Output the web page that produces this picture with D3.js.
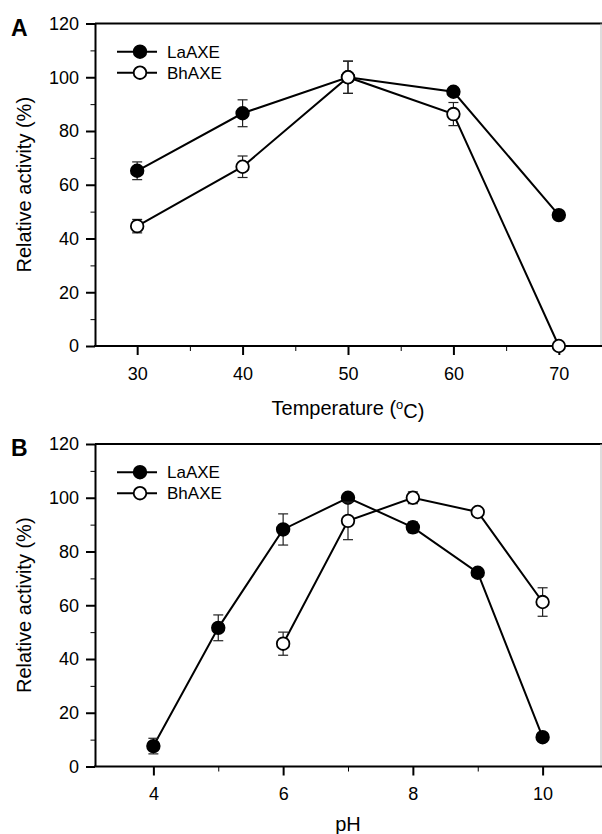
<!DOCTYPE html>
<html>
<head>
<meta charset="utf-8">
<script src="https://cdn.jsdelivr.net/npm/d3@7"></script>
<style>
  body { margin: 0; background: #fff; }
  svg text { font-family: "Liberation Sans", Arial, sans-serif; fill: #000; }
</style>
</head>
<body>
<div id="chart"></div>
<script>
// data
var tempC = [30, 40, 50, 60, 70];
var tempLa = [65.2, 86.6, 100, 94.6, 48.7];
var tempLaErr = [3.3, 5, 6, 1, 1];
var tempBh = [44.6, 66.7, 100, 86.3, 0];
var tempBhErr = [2.5, 4, 6, 4.3, 0];

var phLaX = [4, 5, 6, 7, 8, 9, 10];
var phLa = [7.6, 51.6, 88.2, 100, 89.0, 72.1, 10.9];
var phLaErr = [2.9, 4.8, 5.8, 1.5, 2, 1.5, 1];
var phBhX = [6, 7, 8, 9, 10];
var phBh = [45.7, 91.4, 100, 94.7, 61.2];
var phBhErr = [4.3, 7, 2.2, 1, 5.3];

var yMajor = [0, 20, 40, 60, 80, 100, 120];
var yMinor = [10, 30, 50, 70, 90, 110];
var seriesNames = ["LaAXE", "BhAXE"];

var W = 602, H = 834;
var svg = d3.select("#chart").append("svg")
  .attr("width", W).attr("height", H);

function zip(xs, ys, es) {
  return xs.map(function (x, i) { return {x: x, y: ys[i], e: es[i]}; });
}

function panel(opt) {
  var left = 95, right = 601, top = opt.top, bottom = opt.top + 322.5;
  var x = d3.scaleLinear().domain(opt.xDomain).range([left, right]);
  var y = d3.scaleLinear().domain([0, 120]).range([bottom, top]);
  var g = svg.append("g");

  // frame: heavy top line, light right edge
  g.append("line").attr("x1", left).attr("x2", right + 1).attr("y1", top).attr("y2", top)
    .attr("stroke", "#000").attr("stroke-width", 2);
  g.append("line").attr("x1", right).attr("x2", right).attr("y1", top).attr("y2", bottom)
    .attr("stroke", "#bbb").attr("stroke-width", 1);

  // minor ticks
  g.append("g").attr("transform", "translate(" + left + ",0)")
    .call(d3.axisLeft(y).tickValues(yMinor).tickSize(4.5).tickFormat("").tickSizeOuter(0))
    .call(function (a) { a.select(".domain").remove(); a.selectAll("line").attr("stroke-width", 1); });
  g.append("g").attr("transform", "translate(0," + bottom + ")")
    .call(d3.axisBottom(x).tickValues(opt.xMinor).tickSize(5).tickFormat("").tickSizeOuter(0))
    .call(function (a) { a.select(".domain").remove(); a.selectAll("line").attr("stroke-width", 1); });

  // major axes
  var ya = g.append("g").attr("transform", "translate(" + left + ",0)")
    .call(d3.axisLeft(y).tickValues(yMajor).tickSize(9).tickPadding(7).tickSizeOuter(0));
  var xa = g.append("g").attr("transform", "translate(0," + bottom + ")")
    .call(d3.axisBottom(x).tickValues(opt.xMajor).tickSize(9).tickPadding(12).tickSizeOuter(0));
  [ya, xa].forEach(function (a) {
    a.select(".domain").attr("stroke-width", 2);
    a.selectAll(".tick line").attr("stroke-width", 2);
    a.selectAll("text").style("font-size", "18px").attr("font-family", null);
  });
  xa.select(".domain").attr("d", "M" + (left - 1) + ",0H" + (right + 1));

  // axis titles
  g.append("text")
    .attr("transform", "translate(31," + ((top + bottom) / 2) + ") rotate(-90)")
    .attr("text-anchor", "middle").style("font-size", "20px")
    .text("Relative activity (%)");
  var xt = g.append("text")
    .attr("x", 348).attr("y", bottom + opt.titleGap)
    .attr("text-anchor", "middle").style("font-size", "20px");
  opt.xTitle(xt);

  // panel letter
  g.append("text").attr("x", 11).attr("y", top + 12)
    .style("font-size", "23px").style("font-weight", "bold").text(opt.letter);

  var line = d3.line().x(function (d) { return x(d.x); }).y(function (d) { return y(d.y); });

  opt.series.forEach(function (s) {
    g.append("path").datum(s.data).attr("d", line)
      .attr("fill", "none").attr("stroke", "#000").attr("stroke-width", 2);
  });
  opt.series.forEach(function (s) {
    var eb = g.append("g").selectAll("g").data(s.data.filter(function (d) { return d.e > 0; }))
      .enter().append("g").attr("stroke", "#222").attr("stroke-width", 1.2);
    eb.append("line")
      .attr("x1", function (d) { return x(d.x); }).attr("x2", function (d) { return x(d.x); })
      .attr("y1", function (d) { return y(d.y - d.e); }).attr("y2", function (d) { return y(d.y + d.e); });
    [-1, 1].forEach(function (sg) {
      eb.append("line")
        .attr("x1", function (d) { return x(d.x) - 5; }).attr("x2", function (d) { return x(d.x) + 5; })
        .attr("y1", function (d) { return y(d.y + sg * d.e); })
        .attr("y2", function (d) { return y(d.y + sg * d.e); });
    });
    g.append("g").selectAll("circle").data(s.data).enter().append("circle")
      .attr("cx", function (d) { return x(d.x); })
      .attr("cy", function (d) { return y(d.y); })
      .attr("r", 6.3)
      .attr("fill", s.filled ? "#000" : "#fff")
      .attr("stroke", "#000").attr("stroke-width", 1.8);
  });

  // legend
  var lg = g.append("g").selectAll("g").data(opt.series).enter().append("g")
    .attr("transform", function (d, i) { return "translate(0," + (top + 28.2 + i * 21) + ")"; });
  lg.append("line").attr("x1", 117).attr("x2", 157)
    .attr("stroke", "#000").attr("stroke-width", 2);
  lg.append("circle").attr("cx", 140).attr("r", 6.3)
    .attr("fill", function (d) { return d.filled ? "#000" : "#fff"; })
    .attr("stroke", "#000").attr("stroke-width", 1.8);
  lg.append("text").attr("x", 167).attr("dy", "0.36em").style("font-size", "17px")
    .text(function (d) { return d.name; });
}

panel({
  top: 23.5, letter: "A",
  xDomain: [26, 74], xMajor: tempC, xMinor: [35, 45, 55, 65], titleGap: 69,
  xTitle: function (t) {
    t.append("tspan").text("Temperature (");
    t.append("tspan").attr("dy", "-0.45em").style("font-size", "13px").text("o");
    t.append("tspan").attr("dy", "0.45em").text("C)");
  },
  series: [
    {name: seriesNames[0], filled: true, data: zip(tempC, tempLa, tempLaErr)},
    {name: seriesNames[1], filled: false, data: zip(tempC, tempBh, tempBhErr)}
  ]
});

panel({
  top: 444, letter: "B",
  xDomain: [3.1, 10.9], xMajor: [4, 6, 8, 10], xMinor: [5, 7, 9], titleGap: 64,
  xTitle: function (t) { t.text("pH"); },
  series: [
    {name: seriesNames[0], filled: true, data: zip(phLaX, phLa, phLaErr)},
    {name: seriesNames[1], filled: false, data: zip(phBhX, phBh, phBhErr)}
  ]
});
</script>
</body>
</html>
